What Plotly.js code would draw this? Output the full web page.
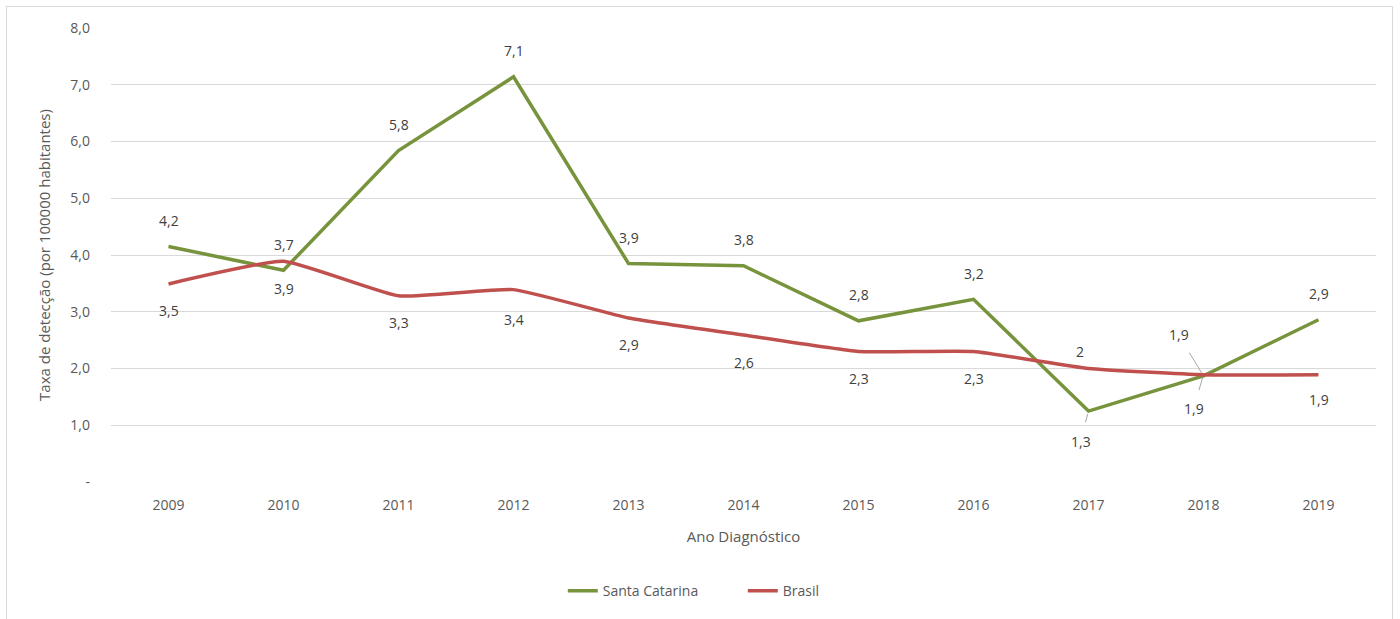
<!DOCTYPE html>
<html>
<head>
<meta charset="utf-8">
<script src="https://cdn.plot.ly/plotly-3.0.1.min.js"></script>
<style>
html,body{margin:0;padding:0;background:#fff;}
#wrap{position:relative;width:1400px;height:619px;}
#chart{position:absolute;left:0;top:0;width:1400px;height:619px;}
#frame{position:absolute;left:6px;top:6px;width:1385px;height:620px;border:1px solid #d9d9d9;pointer-events:none;}
</style>
</head>
<body>
<div id="wrap"><div id="chart"></div><div id="frame"></div></div>
<script>
const years = ['2009','2010','2011','2012','2013','2014','2015','2016','2017','2018','2019'];
const santaCatarina = [4.15, 3.73, 5.84, 7.14, 3.85, 3.81, 2.84, 3.22, 1.25, 1.87, 2.86];
const brasil = [3.49, 3.89, 3.28, 3.39, 2.89, 2.59, 2.30, 2.30, 2.00, 1.89, 1.89];
const scLabels = ['4,2','3,7','5,8','7,1','3,9','3,8','2,8','3,2','1,3','1,9','2,9'];
const brLabels = ['3,5','3,9','3,3','3,4','2,9','2,6','2,3','2,3','2','1,9','1,9'];
const yTickVals = [0,1,2,3,4,5,6,7,8];
const yTickText = ['-','1,0','2,0','3,0','4,0','5,0','6,0','7,0','8,0'];

const green = '#77933C', red = '#C0504D';
const fam = 'Open Sans, Noto Sans, sans-serif';
const labelFont = {family:fam, size:14, color:'#404040'};

// label offsets (px): [ax, ay, leader]
const scOff = years.map(()=>[0,-26,false]);
scOff[8] = [-8, 30, true];
scOff[9] = [-25, -41, true];
const brOff = years.map(()=>[0,27,false]);
brOff[3] = [0,30,false];
brOff[8] = [-9,-17,false];
brOff[9] = [-10,34,true];
brOff[10] = [0,25,false];

const annotations = [];
function addLabels(vals, labels, offs){
  vals.forEach((v,i)=>{
    const o = offs[i];
    annotations.push({
      x: i, y: v, xref:'x', yref:'y', text: labels[i],
      showarrow: true, ax: o[0], ay: o[1], arrowhead: 0,
      arrowwidth: 1, arrowcolor: o[2] ? '#a6a6a6' : 'rgba(0,0,0,0)',
      standoff: 3, startstandoff: 8,
      font: labelFont
    });
  });
}
addLabels(santaCatarina, scLabels, scOff);
addLabels(brasil, brLabels, brOff);

const data = [
  {x: years, y: santaCatarina, name:'Santa Catarina', type:'scatter', mode:'lines',
   line:{color:green, width:3.5}, hoverinfo:'skip'},
  {x: years, y: brasil, name:'Brasil', type:'scatter', mode:'lines',
   line:{color:red, width:3.5, shape:'spline', smoothing:0.4}, hoverinfo:'skip'}
];

const layout = {
  width:1400, height:619,
  margin:{l:111, r:24, t:28, b:137},
  paper_bgcolor:'rgba(0,0,0,0)', plot_bgcolor:'#fff',
  font:{family:fam, size:14, color:'#595959'},
  showlegend:true,
  legend:{orientation:'h', xref:'container', yref:'container', x:0.402, xanchor:'left',
          y:0.045, yanchor:'middle', font:{size:14, color:'#595959'}, traceorder:'normal',
          itemwidth:30, tracegroupgap:0, entrywidth:135, entrywidthmode:'pixels'},
  xaxis:{type:'category', range:[-0.5, 10.5], autorange:false, showgrid:false, zeroline:false, showline:false, ticks:'',
         tickfont:{size:14, color:'#595959'}, ticklabelstandoff:13,
         title:{text:'Ano Diagnóstico', font:{size:15, color:'#595959'}, standoff:18}},
  yaxis:{range:[0,8], autorange:false, tickvals:yTickVals, ticktext:yTickText, showgrid:true, gridcolor:'#d9d9d9',
         gridwidth:1, zeroline:false, showline:false, ticks:'', ticklabelstandoff:20,
         tickfont:{size:14, color:'#595959'},
         title:{text:'Taxa de detecção (por 100000 habitantes)', font:{size:15, color:'#595959'}, standoff:16}},
  annotations: annotations
};
Plotly.newPlot('chart', data, layout, {displayModeBar:false, staticPlot:true});
</script>
</body>
</html>
